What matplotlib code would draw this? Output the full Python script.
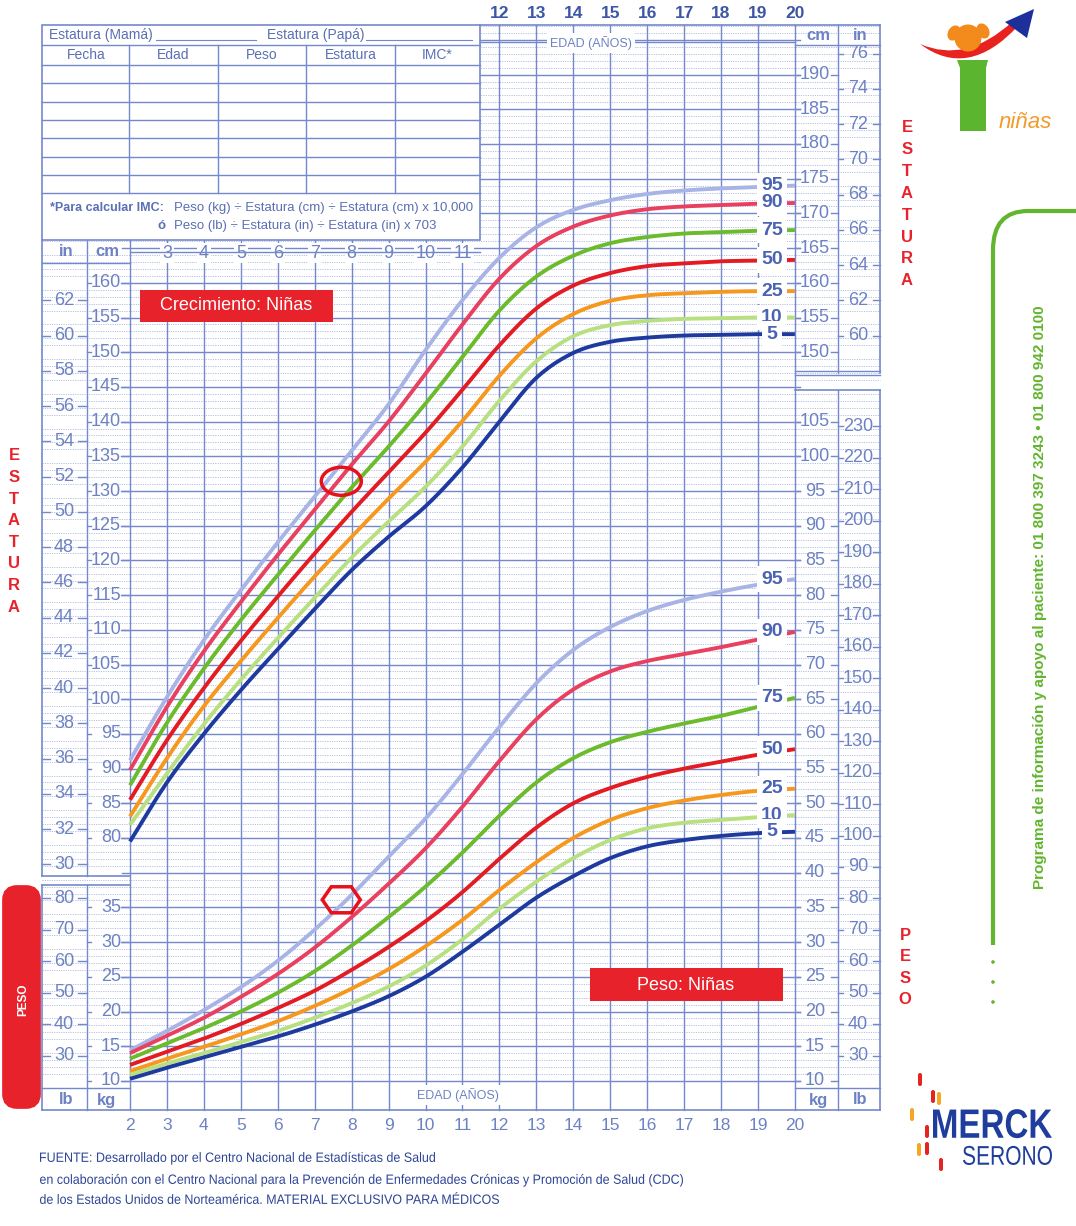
import matplotlib.pyplot as plt
import numpy as np
import matplotlib.transforms as mtrans
from matplotlib.patches import Rectangle, FancyBboxPatch, Ellipse, Polygon, Circle, PathPatch
from matplotlib.path import Path
from matplotlib.textpath import TextPath
from matplotlib.font_manager import FontProperties

plt.rcParams['font.family'] = ['Liberation Sans', 'DejaVu Sans']

W, H = 1076, 1226
KX, KY = 36.94, 6.94      # pixels per year / per cm (same scale for kg)
KG_OFFSET = 35            # weight panel sits on the cm grid: kg + 35

ages = list(range(2, 21))
percentiles = [95, 90, 75, 50, 25, 10, 5]
colors = ['#a9b4e6', '#e8405e', '#6cbb2c', '#e31c24', '#f6981e', '#b8df80', '#1e3a9f']

# estatura (cm) por edad 2..20
h95 = [91.2, 100.3, 108.5, 115.7, 122.6, 129.2, 135.8, 142.5, 150.3, 157.5, 163.6, 168.0, 170.5, 171.9, 172.8, 173.3, 173.6, 173.8, 174.0]
h90 = [89.8, 98.9, 106.9, 114.0, 120.8, 127.3, 133.8, 140.0, 146.9, 154.0, 160.6, 165.3, 168.1, 169.7, 170.6, 171.0, 171.2, 171.4, 171.5]
h75 = [87.6, 96.6, 104.4, 111.4, 117.9, 124.3, 130.5, 136.4, 142.6, 149.3, 156.0, 160.9, 163.9, 165.7, 166.6, 167.1, 167.3, 167.5, 167.6]
h50 = [85.5, 94.1, 101.6, 108.4, 114.8, 121.0, 127.0, 132.7, 138.4, 144.6, 151.0, 156.3, 159.6, 161.4, 162.4, 162.8, 163.1, 163.2, 163.3]
h25 = [83.1, 91.5, 99.0, 105.5, 111.7, 117.7, 123.4, 128.9, 134.2, 140.1, 146.6, 152.0, 155.5, 157.4, 158.2, 158.5, 158.7, 158.8, 158.8]
h10 = [81.9, 89.3, 96.4, 102.8, 108.8, 114.6, 120.4, 125.6, 130.6, 136.4, 143.0, 148.7, 152.3, 153.9, 154.5, 154.8, 154.9, 155.0, 155.0]
h5 = [79.5, 88.0, 95.0, 101.3, 107.2, 113.0, 118.6, 123.4, 127.8, 133.4, 140.0, 146.3, 149.9, 151.5, 152.1, 152.4, 152.5, 152.6, 152.6]

# peso (kg) por edad 2..20
w95 = [14.4, 17.2, 20.2, 23.5, 27.3, 31.8, 36.8, 42.3, 47.8, 54.2, 61.0, 67.3, 72.1, 75.4, 77.7, 79.3, 80.5, 81.5, 82.3]
w90 = [14.0, 16.5, 19.1, 22.1, 25.4, 29.2, 33.6, 38.4, 43.5, 49.5, 56.1, 62.1, 66.4, 69.0, 70.5, 71.5, 72.5, 73.6, 74.7]
w75 = [13.2, 15.4, 17.6, 20.0, 22.7, 25.8, 29.5, 33.6, 38.0, 42.9, 48.2, 53.0, 56.5, 58.8, 60.3, 61.5, 62.6, 63.9, 65.2]
w50 = [12.3, 14.2, 16.1, 18.2, 20.5, 23.0, 26.0, 29.3, 33.0, 37.2, 42.0, 46.5, 50.0, 52.2, 53.8, 55.0, 56.0, 57.0, 57.8]
w25 = [11.4, 13.2, 14.9, 16.7, 18.6, 20.8, 23.3, 26.1, 29.4, 33.2, 37.5, 41.5, 45.0, 47.6, 49.3, 50.4, 51.2, 51.8, 52.1]
w10 = [10.9, 12.5, 14.0, 15.6, 17.2, 19.1, 21.2, 23.6, 26.6, 30.4, 34.8, 38.7, 42.1, 44.7, 46.4, 47.2, 47.6, 48.0, 48.3]
w5 = [10.3, 11.9, 13.4, 14.9, 16.4, 18.1, 20.0, 22.2, 25.0, 28.6, 32.5, 36.4, 39.5, 42.1, 43.8, 44.7, 45.3, 45.7, 45.9]

heights = [h95, h90, h75, h50, h25, h10, h5]
weights = [w95, w90, w75, w50, w25, w10, w5]

# medicion marcada en la grafica
patient_age = [7.72]
patient_height = [131.4]
patient_weight = [36.1]

GRID = '#7489cc'
MINOR = '#b3c0e6'
TICK = '#6d82c4'
DARK = '#3d56a6'
RED = '#e8222b'
GREEN = '#62b52e'


def ax_x(px):
    return 2 + (px - 130) / KX


def ax_y(py):
    return 80 + (838 - py) / KY


def smooth(x, y, n=12):
    # catmull-rom through the read points, just for drawing
    x = np.asarray(x, float)
    y = np.asarray(y, float)
    yp = np.concatenate([[2 * y[0] - y[1]], y, [2 * y[-1] - y[-2]]])
    t = np.linspace(0, 1, n, endpoint=False)
    xs, ys = [], []
    for i in range(len(x) - 1):
        p0, p1, p2, p3 = yp[i], yp[i + 1], yp[i + 2], yp[i + 3]
        seg = 0.5 * ((2 * p1) + (-p0 + p2) * t + (2 * p0 - 5 * p1 + 4 * p2 - p3) * t ** 2
                     + (-p0 + 3 * p1 - 3 * p2 + p3) * t ** 3)
        xs.append(x[i] + t * (x[i + 1] - x[i]))
        ys.append(seg)
    xs.append([x[-1]])
    ys.append([y[-1]])
    return np.concatenate(xs), np.concatenate(ys)


fig = plt.figure(figsize=(W / 100, H / 100), dpi=100)
fig.patch.set_facecolor('white')
ax = fig.add_axes([0, 0, 1, 1])
ax.set_xlim(ax_x(0), ax_x(W))
ax.set_ylim(ax_y(H), ax_y(0))
ax.axis('off')

ov = fig.add_axes([0, 0, 1, 1], zorder=5)
ov.set_xlim(0, W)
ov.set_ylim(H, 0)
ov.axis('off')
ov.patch.set_visible(False)


def squeezed(x, y, s, size_px, width, color, weight='normal', ha='left'):
    # condensed text: glyph outlines squeezed to a given width
    tp = TextPath((0, 0), s, size=size_px, prop=FontProperties(family='Liberation Sans', weight=weight))
    bb = tp.get_extents()
    sx = width / bb.width
    x0 = x - bb.x0 * sx if ha == 'left' else x - width / 2 - bb.x0 * sx
    tr = mtrans.Affine2D().translate(0, -0.36 * size_px).scale(sx, -1).translate(x0, y)
    ov.add_patch(PathPatch(tr.transform_path(tp), fc=color, ec='none', lw=0))


# ---- grid ----
for v in range(45, 198):
    if v % 5:
        ax.plot([ax_x(42), ax_x(880)], [v, v], color=MINOR, lw=0.7, ls=(0, (1.2, 1.2)), zorder=1)
for v in range(45, 196, 5):
    ax.plot([ax_x(122), ax_x(800)], [v, v], color=GRID, lw=1.0, zorder=1)
for a in ages:
    ax.plot([a, a], [ax_y(1110), ax_y(25)], color=GRID, lw=1.0, zorder=1)

# ---- curves ----
for p, c, hv, wv in zip(percentiles, colors, heights, weights):
    xs, ys = smooth(ages, hv)
    ax.plot(xs, ys, color=c, lw=2.8, zorder=3, solid_capstyle='butt')
    xs, ys = smooth(ages, np.array(wv) + KG_OFFSET)
    ax.plot(xs, ys, color=c, lw=2.8, zorder=3, solid_capstyle='butt')
    for last in (hv[-1], wv[-1] + KG_OFFSET):
        ax.text(ax_x(772), last, str(p), ha='center', va='center', fontsize=14,
                fontweight='bold', color='#4a63b2', zorder=4,
                bbox=dict(boxstyle='square,pad=0.22', fc='white', ec='none'))

# marcas del paciente
ax.add_patch(Ellipse((patient_age[0], patient_height[0]), 40 / KX, 28 / KY,
                     fill=False, ec='#e8101a', lw=2.5, zorder=6))
hx = np.array([-19, -10, 10, 19, 10, -10]) / KX + patient_age[0]
hy = np.array([0, 13, 13, 0, -13, -13]) / KY + patient_weight[0] + KG_OFFSET
ax.add_patch(Polygon(np.column_stack([hx, hy]), closed=True, fill=False,
                     ec='#e8101a', lw=2.5, zorder=6))


# ---- scale labels ----
def scale(vals, to_cm, px, ha, l0, l1, r0, r1, size=13):
    for v in vals:
        y = to_cm(v)
        ax.text(ax_x(px), y, str(v), ha=ha, va='center', fontsize=size, color=TICK, zorder=4)
        ax.plot([ax_x(l0), ax_x(l1)], [y, y], color=GRID, lw=1.0, zorder=2)
        ax.plot([ax_x(r0), ax_x(r1)], [y, y], color=GRID, lw=1.0, zorder=2)


cm = lambda v: v
inch = lambda v: v * 2.54
kg = lambda v: v + KG_OFFSET
lb = lambda v: v * 0.45359 + KG_OFFSET

scale(range(80, 161, 5), cm, 121, 'right', 87, 91, 121, 130)
scale(range(30, 63, 2), inch, 64, 'center', 42, 50, 78, 87)
scale(range(10, 36, 5), kg, 121, 'right', 87, 91, 121, 130)
scale(range(30, 81, 10), lb, 64, 'center', 42, 50, 78, 87)
scale(range(150, 191, 5), cm, 815, 'center', 795, 800, 831, 838)
scale(range(60, 77, 2), inch, 858, 'center', 838, 843, 873, 880)
scale(range(10, 106, 5), kg, 815, 'center', 795, 800, 831, 838)
scale(range(30, 231, 10), lb, 858, 'center', 838, 843, 873, 880)

for a in range(12, 21):
    ax.text(a, ax_y(13), str(a), ha='center', va='center', fontsize=12.5,
            fontweight='bold', color=DARK)
for a in ages:
    ax.text(a, ax_y(1125), str(a), ha='center', va='center', fontsize=12.5, color=TICK)
for a in range(3, 12):
    ax.text(a, ax_y(253), str(a), ha='center', va='center', fontsize=13, color=TICK,
            zorder=7, bbox=dict(boxstyle='square,pad=0.1', fc='white', ec='none'))


# ---- frames (pixel overlay) ----
def hline(y, x0, x1, lw=1.0):
    ov.plot([x0, x1], [y, y], color=GRID, lw=lw)


def vline(x, y0, y1, lw=1.0):
    ov.plot([x, x], [y0, y1], color=GRID, lw=lw)


# table
ov.add_patch(Rectangle((42, 25), 438, 215, fc='white', ec=GRID, lw=1.2, zorder=1))
hline(45, 42, 480)
for y in [65, 83.3, 101.6, 120, 138.3, 156.6, 175, 193.3]:
    hline(y, 42, 480)
for x in [129, 218, 306, 395]:
    vline(x, 45, 193.3)
TT = '#5a6fb5'
ov.text(49, 35, 'Estatura (Mamá)', fontsize=10, color=TT, va='center')
hline(40, 156, 256, lw=0.8)
ov.text(267, 35, 'Estatura (Papá)', fontsize=10, color=TT, va='center')
hline(40, 366, 472, lw=0.8)
for x, s in zip([86, 173, 262, 351, 437], ['Fecha', 'Edad', 'Peso', 'Estatura', 'IMC*']):
    ov.text(x, 55, s, fontsize=10, color=TT, ha='center', va='center')
ov.text(50, 208, '*Para calcular IMC:', fontsize=9, color=TT, fontweight='bold', va='center')
ov.text(174, 208, 'Peso (kg) ÷ Estatura (cm) ÷ Estatura (cm) x 10,000', fontsize=9.5, color=TT, va='center')
ov.text(158, 226, 'ó', fontsize=9.5, color=TT, fontweight='bold', va='center')
ov.text(174, 226, 'Peso (lb) ÷ Estatura (in) ÷ Estatura (in) x 703', fontsize=9.5, color=TT, va='center')
hline(252, 130, 480)

# outer boxes
hline(25, 480, 880, lw=1.2)
hline(42, 480, 795)
ov.text(591, 43, 'EDAD (AÑOS)', fontsize=9, color=TICK, ha='center', va='center',
        bbox=dict(boxstyle='square,pad=0.25', fc='white', ec='none'))
vline(42, 240, 876, lw=1.2)
vline(87, 240, 876)
hline(263, 42, 130)
hline(876, 42, 130, lw=1.2)
vline(42, 885, 1110, lw=1.2)
vline(87, 885, 1110)
hline(885, 42, 130, lw=1.2)
hline(1088, 42, 130)
hline(1110, 42, 880, lw=1.2)
vline(838, 25, 373)
vline(880, 25, 373, lw=1.2)
hline(45, 795, 880)
hline(371, 795, 880)
hline(375, 795, 880)
vline(838, 390, 1110)
vline(880, 390, 1110, lw=1.2)
hline(390, 795, 880, lw=1.2)
hline(1088, 795, 880)
ov.text(458, 1095, 'EDAD (AÑOS)', fontsize=9, color=TICK, ha='center', va='center',
        bbox=dict(boxstyle='square,pad=0.25', fc='white', ec='none'))
for x, y, s in [(66, 251, 'in'), (107, 251, 'cm'), (818, 35, 'cm'), (860, 35, 'in'),
                (66, 1100, 'lb'), (107, 1100, 'kg'), (818, 1100, 'kg'), (860, 1100, 'lb')]:
    ov.text(x, y, s, fontsize=12, fontweight='bold', color=TICK, ha='center', va='center')

# red labels
ov.add_patch(Rectangle((140, 290), 193, 32, fc=RED, ec='none'))
ov.text(236, 306, 'Crecimiento: Niñas', fontsize=13, color='white', ha='center', va='center')
ov.add_patch(Rectangle((590, 968), 193, 33, fc=RED, ec='none'))
ov.text(686, 985, 'Peso: Niñas', fontsize=13, color='white', ha='center', va='center')
ov.add_patch(FancyBboxPatch((7, 890), 29, 214, boxstyle='round,pad=0,rounding_size=10',
                            fc=RED, ec=RED, lw=7))
ov.text(23, 1000, 'PESO', fontsize=8.5, fontweight='bold', color='white', rotation=90,
        ha='center', va='center')

for i, ch in enumerate('ESTATURA'):
    ov.text(14, 456 + i * 21.6, ch, fontsize=12, fontweight='bold', color=RED, ha='center', va='center')
    ov.text(907, 128 + i * 21.8, ch, fontsize=12, fontweight='bold', color=RED, ha='center', va='center')
for i, ch in enumerate('PESO'):
    ov.text(905, 935 + i * 21.6, ch, fontsize=12, fontweight='bold', color=RED, ha='center', va='center')

# logo niñas
arc = Path([(920, 44), (968, 80), (1018, 26), (1012, 22), (966, 64), (920, 44)],
           [Path.MOVETO, Path.CURVE3, Path.CURVE3, Path.LINETO, Path.CURVE3, Path.CURVE3])
ov.add_patch(PathPatch(arc, fc='#e8231f', ec='none'))
ov.add_patch(Polygon([(1005, 22), (1034, 9), (1027, 38)], closed=True, fc='#1d2f9a', ec='none'))
ov.add_patch(Ellipse((954, 33), 12, 16, angle=30, fc='#f28a1c', ec='none'))
ov.add_patch(Ellipse((983, 31), 12, 16, angle=-30, fc='#f28a1c', ec='none'))
ov.add_patch(Circle((968, 38), 13.5, fc='#f28a1c', ec='none'))
ov.add_patch(Polygon([(957, 60), (988, 60), (986, 68), (986, 131), (960, 131), (960, 68)],
                     closed=True, fc='#5cb52e', ec='none'))
ov.text(1025, 122, 'niñas', fontsize=16, style='italic', color='#f39a2a', ha='center', va='center')

# green bracket + phone text
br = Path([(1076, 211), (1028, 211), (993, 211), (993, 250), (993, 945)],
          [Path.MOVETO, Path.LINETO, Path.CURVE3, Path.CURVE3, Path.LINETO])
ov.add_patch(PathPatch(br, fill=False, ec=GREEN, lw=3))
for y in [962, 982, 1002]:
    ov.add_patch(Circle((993, y), 1.8, fc=GREEN, ec='none'))
ov.text(1040, 597, 'Programa de información y apoyo al paciente: 01 800 397 3243 • 01 800 942 0100',
        rotation=90, fontsize=11, fontweight='bold', color=GREEN, ha='center', va='center')

# merck serono
bars = [(920, 1073, '#e52420'), (933, 1090, '#e52420'), (939, 1092, '#f5a623'),
        (912, 1108, '#f5a623'), (927, 1125, '#e52420'), (919, 1143, '#f5a623'),
        (927, 1142, '#e52420'), (941, 1158, '#e52420')]
for x, y, c in bars:
    ov.add_patch(FancyBboxPatch((x - 2, y), 4, 13, boxstyle='round,pad=0,rounding_size=2', fc=c, ec='none'))
squeezed(933, 1123, 'MERCK', 41, 119, '#1f3d9c', weight='bold')
squeezed(963, 1155, 'SERONO', 27, 89, '#1f3d9c')

# footer
FT = '#2d4596'
for y, s, wd in [(1157, 'FUENTE: Desarrollado por el Centro Nacional de Estadísticas de Salud', 395),
                 (1179, 'en colaboración con el Centro Nacional para la Prevención de Enfermedades Crónicas y Promoción de Salud (CDC)', 643),
                 (1199, 'de los Estados Unidos de Norteamérica. MATERIAL EXCLUSIVO PARA MÉDICOS', 459)]:
    squeezed(40, y, s, 13.5, wd, FT)

fig.savefig('out.png', dpi=100)
